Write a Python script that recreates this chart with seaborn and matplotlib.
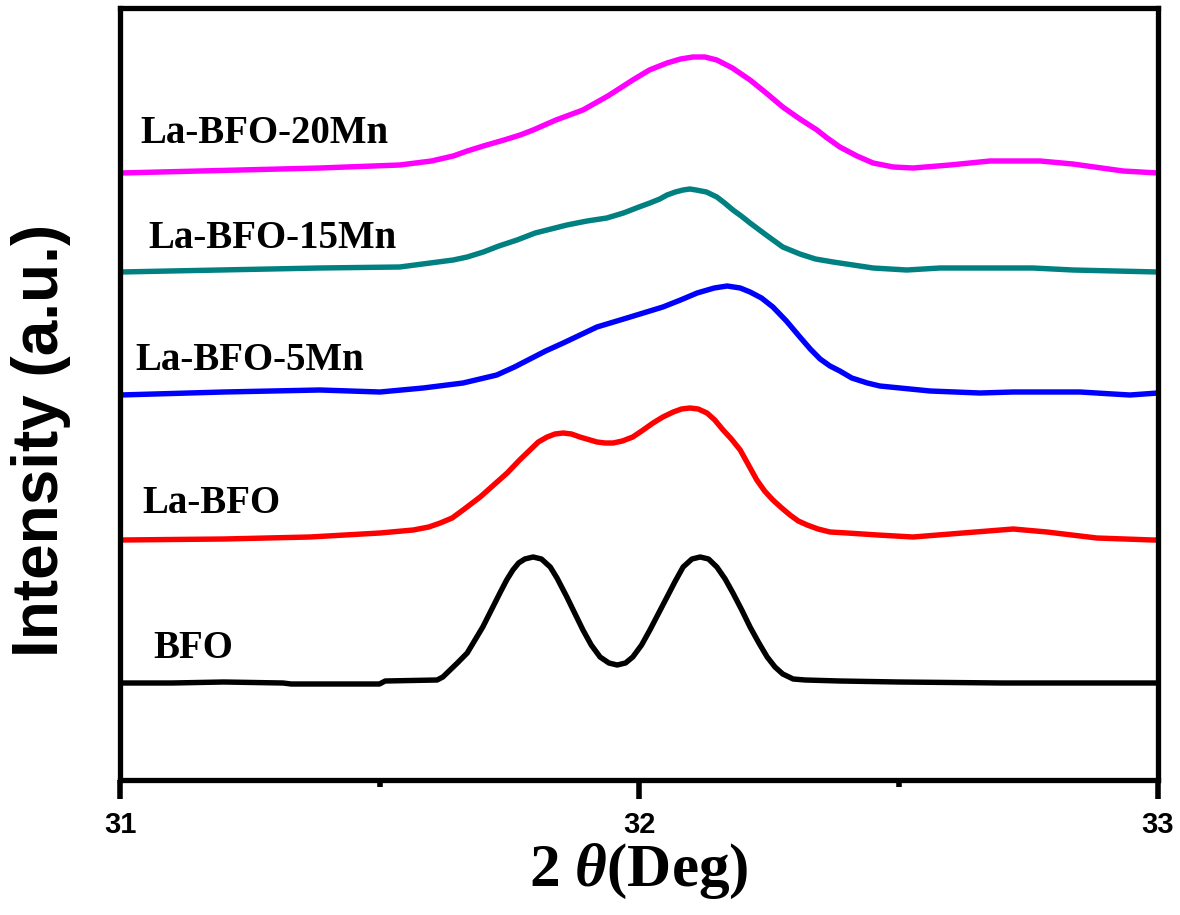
import numpy as np
import pandas as pd
import matplotlib
matplotlib.use("Agg")
import matplotlib.pyplot as plt
import seaborn as sns

# ---------------- data ----------------
bfo_x = [31.000, 31.100, 31.200, 31.314, 31.330, 31.500, 31.511, 31.611, 31.622, 31.636, 31.650,
         31.669, 31.699, 31.732, 31.745, 31.757, 31.768, 31.780, 31.796, 31.812, 31.829, 31.842,
         31.861, 31.876, 31.892, 31.908, 31.925, 31.942, 31.958, 31.974, 31.988, 32.005, 32.021,
         32.038, 32.054, 32.070, 32.085, 32.102, 32.118, 32.134, 32.150, 32.166, 32.181, 32.198,
         32.214, 32.231, 32.247, 32.262, 32.277, 32.297, 32.320, 32.387, 32.500, 32.700, 33.000]
bfo_y = [97, 97, 98, 97, 96, 96, 99, 100, 103, 110, 117,
         127, 153, 187, 200, 210, 217, 221, 223, 221, 213, 202,
         183, 167, 150, 135, 123, 117, 115, 117, 123, 135, 150,
         167, 183, 199, 213, 221, 223, 221, 213, 201, 187, 170,
         153, 137, 123, 113, 106, 101, 100, 99, 98, 97, 97]

labfo_x = [31.000, 31.200, 31.366, 31.501, 31.565, 31.595, 31.617, 31.640, 31.661, 31.694,
           31.720, 31.746, 31.770, 31.790, 31.806, 31.823, 31.838, 31.854, 31.870, 31.886,
           31.919, 31.935, 31.950, 31.968, 31.988, 32.008, 32.027, 32.046, 32.066, 32.082,
           32.098, 32.114, 32.131, 32.146, 32.162, 32.178, 32.195, 32.211, 32.227, 32.242,
           32.258, 32.275, 32.291, 32.307, 32.324, 32.345, 32.368, 32.401, 32.460, 32.528,
           32.624, 32.721, 32.786, 32.882, 32.990, 33.000]
labfo_y = [240, 241, 243, 247, 250, 253, 257, 262, 270, 283,
           295, 307, 320, 330, 338, 343, 346, 347, 346, 343,
           338, 337, 337, 339, 343, 350, 357, 363, 368, 371,
           372, 371, 367, 360, 350, 341, 330, 315, 300, 289,
           280, 272, 265, 259, 255, 251, 248, 247, 245, 243,
           247, 251, 248, 242, 240, 240]

mn5_x = [31.000, 31.200, 31.385, 31.501, 31.584, 31.661, 31.726, 31.760, 31.790, 31.820,
         31.854, 31.919, 31.983, 32.046, 32.080, 32.112, 32.145, 32.170, 32.195, 32.214,
         32.236, 32.258, 32.284, 32.310, 32.330, 32.349, 32.368, 32.387, 32.410, 32.440,
         32.464, 32.561, 32.657, 32.721, 32.850, 32.913, 32.946, 33.000]
mn5_y = [385, 388, 390, 388, 392, 397, 405, 413, 421, 429,
         437, 453, 463, 473, 480, 487, 492, 494, 492, 488,
         482, 473, 459, 443, 431, 421, 414, 409, 402, 397,
         394, 389, 387, 388, 388, 386, 385, 387]

mn15_x = [31.000, 31.385, 31.539, 31.642, 31.669, 31.700, 31.730, 31.765, 31.800, 31.861,
          31.900, 31.938, 31.970, 32.000, 32.021, 32.040, 32.054, 32.070, 32.085, 32.098,
          32.110, 32.130, 32.150, 32.165, 32.181, 32.197, 32.214, 32.245, 32.277, 32.310,
          32.340, 32.374, 32.451, 32.516, 32.580, 32.759, 32.836, 33.000]
mn15_y = [508, 512, 513, 520, 523, 528, 534, 540, 547, 555,
          559, 562, 567, 573, 577, 581, 585, 588, 590, 591,
          590, 588, 583, 577, 570, 564, 557, 545, 533, 526,
          521, 518, 512, 510, 512, 512, 510, 508]

mn20_x = [31.000, 31.385, 31.539, 31.600, 31.642, 31.669, 31.700, 31.740, 31.771, 31.796,
          31.840, 31.892, 31.940, 31.988, 32.020, 32.054, 32.080, 32.104, 32.127, 32.150,
          32.180, 32.214, 32.245, 32.277, 32.310, 32.343, 32.360, 32.387, 32.420, 32.451,
          32.490, 32.528, 32.599, 32.676, 32.773, 32.836, 32.933, 33.000]
mn20_y = [607, 612, 615, 619, 624, 629, 634, 640, 645, 650,
          660, 670, 684, 700, 710, 717, 721, 723, 723, 720,
          712, 700, 687, 673, 661, 650, 643, 633, 624, 617,
          613, 612, 615, 619, 619, 616, 609, 607]

samples = ["BFO", "La-BFO", "La-BFO-5Mn", "La-BFO-15Mn", "La-BFO-20Mn"]
colors = ["#000000", "#ff0000", "#0000ff", "#008080", "#ff00ff"]
label_x = [31.064, 31.044, 31.029, 31.054, 31.039]
label_y = [122, 267, 410, 532, 637]
x_ticks = [31, 32, 33]
x_minor = [31.5, 32.5]

series = [(bfo_x, bfo_y), (labfo_x, labfo_y), (mn5_x, mn5_y), (mn15_x, mn15_y), (mn20_x, mn20_y)]
frames = []
for name, (xs, ys) in zip(samples, series):
    frames.append(pd.DataFrame({"theta": xs, "intensity": ys, "sample": name}))
df = pd.concat(frames, ignore_index=True)

# ---------------- plot ----------------
sns.set_style("white")
plt.rcParams["text.color"] = "black"
plt.rcParams["axes.labelcolor"] = "black"
plt.rcParams["xtick.color"] = "black"
plt.rcParams["ytick.color"] = "black"
plt.rcParams["mathtext.fontset"] = "custom"
plt.rcParams["mathtext.it"] = "Liberation Serif:italic:bold"
plt.rcParams["mathtext.rm"] = "Liberation Serif:bold"

fig = plt.figure(figsize=(11.8, 9.15), dpi=100)
ax = fig.add_axes([120 / 1180, 1 - 780 / 915, (1158 - 120) / 1180, (780 - 8) / 915])

sns.lineplot(data=df, x="theta", y="intensity", hue="sample", hue_order=samples,
             palette=dict(zip(samples, colors)), estimator=None, sort=False,
             linewidth=3.9, legend=False, ax=ax)
for ln in ax.get_lines():
    ln.set_solid_joinstyle("round")
    ln.set_solid_capstyle("round")

for name, lx, ly in zip(samples, label_x, label_y):
    ax.text(lx, ly, name, fontsize=28, fontweight="bold", family="Liberation Serif",
            ha="left", va="baseline", color="black")

ax.set_xlim(31, 33)
ax.set_ylim(0, 772)
ax.set_xticks(x_ticks)
ax.set_xticks(x_minor, minor=True)
ax.set_xticklabels([str(t) for t in x_ticks])
ax.set_yticks([])

for lab in ax.get_xticklabels():
    lab.set_fontsize(21)
    lab.set_fontweight("bold")
    lab.set_family("Liberation Sans")
    lab.set_color("black")

ax.tick_params(axis="x", which="major", direction="out", length=14, width=4, pad=8,
               bottom=True, color="black")
ax.tick_params(axis="x", which="minor", direction="out", length=5, width=4, bottom=True,
               color="black")

for sp in ax.spines.values():
    sp.set_linewidth(3.8)
    sp.set_color("black")
    sp.set_visible(True)

ax.set_xlabel(r"2 $\mathit{\theta}$(Deg)", fontsize=44, fontweight="bold",
              family="Liberation Serif", labelpad=2, color="black")
ax.set_ylabel("Intensity (a.u.)", fontsize=46, fontweight="bold", family="Liberation Sans",
              color="black")
ax.yaxis.set_label_coords(-0.047, 0.44)

fig.savefig("out.png", dpi=100, facecolor="white")
